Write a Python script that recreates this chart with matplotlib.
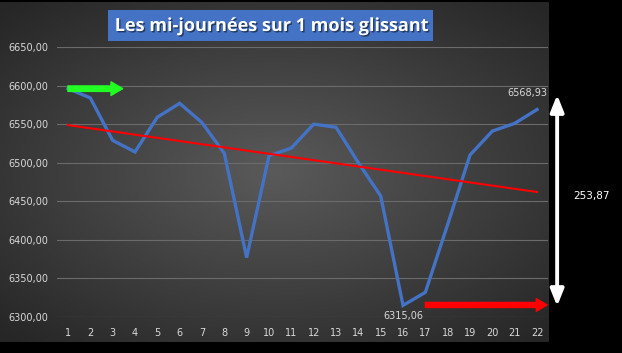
import numpy as np
import matplotlib.pyplot as plt
from matplotlib.patches import Rectangle
from matplotlib.ticker import FuncFormatter
import matplotlib.patheffects as pe

days = list(range(1, 23))
values = [6596, 6584, 6529, 6514, 6559, 6577, 6552, 6512, 6377, 6509, 6519,
          6550, 6546, 6500, 6457, 6315.06, 6332, 6420, 6510, 6541, 6551, 6568.93]
title = "Les mi-journées sur 1 mois glissant"
y_ticks = [6300, 6350, 6400, 6450, 6500, 6550, 6600, 6650]


def fr(v):
    return f"{v:.2f}".replace(".", ",")


W, H = 622, 353
fig = plt.figure(figsize=(W / 100, H / 100), dpi=100, facecolor="black")

# dark radial background panel
bg = fig.add_axes([0, 1 - 342 / H, 549 / W, 340 / H])
bg.set_axis_off()
gx, gy = np.meshgrid(np.linspace(-1, 1, 400), np.linspace(-1, 1, 250))
r = np.clip(np.sqrt((gx * 0.95) ** 2 + (gy * 1.0) ** 2) / 1.35, 0, 1)
shade = 0x5a / 255 * (1 - r) + 0x26 / 255 * r
bg.imshow(np.dstack([shade] * 3), aspect="auto", extent=(0, 1, 0, 1))

ax = fig.add_axes([56.8 / W, 1 - 317 / H, (548.2 - 56.8) / W, 270 / H])
ax.set_facecolor("none")
x = np.array(days)
y = np.array(values)

ax.plot(x, y, color="#4472C4", lw=2.4, zorder=3, solid_joinstyle="miter")
k, b = np.polyfit(x, y, 1)
ax.plot(x, k * x + b, color="red", lw=1.5, zorder=4)

ax.set_xlim(0.5, 22.5)
ax.set_ylim(6300, 6650)
ax.set_xticks(days)
ax.set_yticks(y_ticks)
ax.yaxis.set_major_formatter(FuncFormatter(lambda v, p: fr(v)))
ax.grid(axis="y", color="#6b6b6b", lw=0.8)
ax.tick_params(length=0, colors="#d9d9d9", labelsize=7)
ax.tick_params(axis="y", pad=6)
ax.tick_params(axis="x", pad=8)
for s in ax.spines.values():
    s.set_visible(False)

# data labels
i_min = int(np.argmin(y))
ax.annotate(fr(y[-1]), (x[-1], y[-1]), xytext=(-7, 8), textcoords="offset points",
            ha="center", va="bottom", color="#d9d9d9", fontsize=7, annotation_clip=False)
ax.annotate(fr(y[i_min]), (x[i_min], y[i_min]), xytext=(0, -4), textcoords="offset points",
            ha="center", va="top", color="#d9d9d9", fontsize=7, annotation_clip=False)

# arrows
fat = "simple,head_length=0.6,head_width=0.7,tail_width=0.28"
ax.annotate("", xy=(3.45, y[0]), xytext=(1.0, y[0]),
            arrowprops=dict(arrowstyle=fat, color="#22ff22", mutation_scale=14,
                            shrinkA=0, shrinkB=0), zorder=5)
ax.annotate("", xy=(22.45, 6315.6), xytext=(17.0, 6315.6), annotation_clip=False,
            arrowprops=dict(arrowstyle=fat, color="red", mutation_scale=13,
                            shrinkA=0, shrinkB=0), zorder=5)
ax.annotate("", xy=(22.9, 6314), xytext=(22.9, 6588), annotation_clip=False,
            arrowprops=dict(arrowstyle="<|-|>,head_length=1.0,head_width=0.4",
                            color="white", lw=2.8, mutation_scale=10,
                            shrinkA=0, shrinkB=0))
ax.text(24.42, 6457, fr(y[-1] - y[i_min]), color="white", fontsize=7.5,
        ha="center", va="center", clip_on=False)

# title box
fig.patches.append(Rectangle((108 / W, 1 - 41 / H), 325 / W, 31 / H,
                             transform=fig.transFigure, fc="#4472C4", ec="none",
                             zorder=5))
fig.text(270.5 / W, 1 - 26 / H, title, ha="center", va="center", color="white",
         fontsize=13, fontweight="bold", family="Open Sans", zorder=6,
         path_effects=[pe.withSimplePatchShadow(offset=(1, -1), shadow_rgbFace="black",
                                                alpha=0.5)])

fig.savefig("out.png", dpi=100, facecolor="black")
